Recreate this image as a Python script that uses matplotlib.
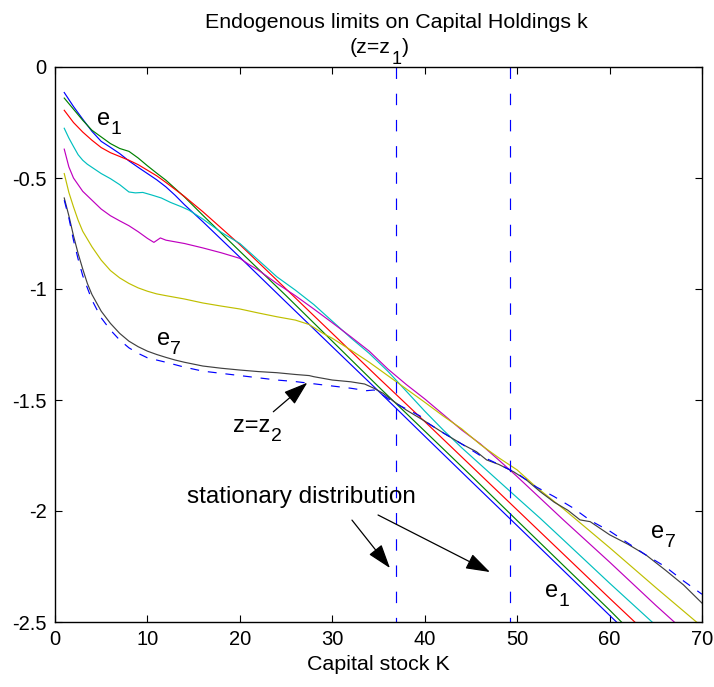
import matplotlib
matplotlib.use("Agg")
import matplotlib.pyplot as plt

plt.rcParams['font.family'] = ['Liberation Sans', 'DejaVu Sans']

# ---------------- data ----------------
k_e1 = [1, 2, 3, 4, 5, 6, 7, 8, 9, 10, 11, 12, 13, 14, 16, 20, 25, 30, 35, 40, 45, 50, 55, 60, 62]
v_e1 = [-0.115, -0.178, -0.235, -0.29, -0.335, -0.362, -0.39, -0.423, -0.452, -0.48, -0.508, -0.54,
        -0.578, -0.62, -0.697, -0.857, -1.059, -1.26, -1.46, -1.663, -1.865, -2.066, -2.268, -2.47, -2.55]

k_e2 = [1, 2, 3, 4, 5, 6, 7, 8, 9, 10, 11, 12, 14, 16, 20, 25, 30, 35, 40, 45, 50, 55, 60, 62]
v_e2 = [-0.14, -0.19, -0.24, -0.285, -0.315, -0.345, -0.367, -0.38, -0.41, -0.445, -0.478, -0.51,
        -0.585, -0.668, -0.83, -1.03, -1.235, -1.44, -1.64, -1.84, -2.043, -2.245, -2.446, -2.53]

k_e3 = [1, 2, 3, 4, 5, 6, 7, 8, 9, 10, 11, 12, 14, 16, 20, 25, 30, 35, 40, 45, 50, 55, 60, 64]
v_e3 = [-0.195, -0.25, -0.293, -0.33, -0.363, -0.386, -0.403, -0.42, -0.44, -0.465, -0.49, -0.52,
        -0.583, -0.652, -0.8, -1.0, -1.2, -1.4, -1.597, -1.796, -1.995, -2.194, -2.393, -2.55]

k_e4 = [1, 1.5, 2, 2.5, 3, 3.5, 4, 5, 6, 7, 8, 8.7, 9.5, 10.5, 11.5, 12.5, 13.7, 14.5, 16, 18, 20,
        22, 24, 26, 28, 30, 32, 34, 36, 38, 40, 42, 44, 46, 48, 50, 52.5, 55, 60, 64.6, 66]
v_e4 = [-0.276, -0.32, -0.358, -0.395, -0.42, -0.438, -0.452, -0.48, -0.503, -0.53, -0.563, -0.567,
        -0.565, -0.577, -0.59, -0.61, -0.63, -0.645, -0.685, -0.745, -0.795, -0.87, -0.945, -1.005,
        -1.07, -1.145, -1.22, -1.29, -1.37, -1.46, -1.55, -1.635, -1.715, -1.79, -1.865, -1.94,
        -2.033, -2.13, -2.325, -2.5, -2.555]

k_e5 = [1, 1.5, 2, 3, 4, 5, 6, 7, 8, 9, 10, 10.7, 11.4, 12, 14, 16, 18, 20, 21, 22, 24, 26, 28, 30,
        32, 34, 36, 38, 40, 42, 44, 46, 48, 50, 55, 60, 65, 67, 68]
v_e5 = [-0.37, -0.45, -0.5, -0.56, -0.6, -0.64, -0.67, -0.693, -0.715, -0.742, -0.772, -0.79, -0.77,
        -0.78, -0.795, -0.815, -0.837, -0.862, -0.89, -0.915, -0.975, -1.03, -1.09, -1.152, -1.215,
        -1.28, -1.36, -1.43, -1.495, -1.565, -1.635, -1.697, -1.77, -1.845, -2.04, -2.23, -2.425,
        -2.5, -2.54]

k_e6 = [1, 1.5, 2, 2.5, 3, 3.5, 4, 5, 6, 7, 8, 9, 10, 11, 12, 14, 16, 18, 20, 22, 24, 26, 27.5, 29,
        30, 32, 34, 36, 38, 40, 42, 44, 46, 48, 50, 52, 55, 57, 60, 65, 69.4, 70]
v_e6 = [-0.48, -0.565, -0.63, -0.69, -0.74, -0.775, -0.81, -0.87, -0.917, -0.95, -0.975, -0.995,
        -1.01, -1.022, -1.03, -1.045, -1.063, -1.077, -1.09, -1.108, -1.125, -1.14, -1.16, -1.2,
        -1.222, -1.275, -1.33, -1.39, -1.45, -1.51, -1.572, -1.63, -1.7, -1.76, -1.815, -1.89,
        -1.99, -2.06, -2.165, -2.345, -2.5, -2.52]

k_e7 = [1, 1.5, 2, 2.5, 3, 3.5, 4, 5, 6, 7, 8, 9, 10, 11, 12, 13, 14, 16, 18, 20, 22, 24, 26, 27.5,
        28, 30, 32, 33.5, 34.5, 35.5, 36.6, 38, 40, 42, 44, 45.6, 46.7, 48, 49.6, 51, 52.5, 54, 55.5,
        56.8, 57.9, 60, 62, 64, 66, 68, 70]
v_e7 = [-0.59, -0.67, -0.76, -0.84, -0.91, -0.975, -1.025, -1.1, -1.155, -1.2, -1.235, -1.26, -1.28,
        -1.295, -1.308, -1.32, -1.33, -1.347, -1.357, -1.365, -1.372, -1.377, -1.385, -1.39, -1.395,
        -1.41, -1.418, -1.428, -1.447, -1.47, -1.505, -1.545, -1.595, -1.648, -1.698, -1.733,
        -1.77, -1.79, -1.823, -1.86, -1.913, -1.96, -1.997, -2.04, -2.048, -2.107, -2.15, -2.2,
        -2.265, -2.333, -2.415]

k_z2 = [1, 1.5, 2, 2.5, 3, 4, 5, 6, 7, 8, 9, 10, 12, 14, 16, 18, 20, 22, 24, 26, 28, 30, 32, 33.7,
        34.5, 35.2, 36.6, 38, 39.5, 40, 42, 44, 46, 48, 50, 52, 54, 56, 58, 60, 62, 64, 66, 68, 70]
v_z2 = [-0.6, -0.68, -0.78, -0.865, -0.94, -1.05, -1.13, -1.185, -1.23, -1.265, -1.29, -1.31, -1.33,
        -1.352, -1.37, -1.38, -1.39, -1.4, -1.41, -1.417, -1.427, -1.437, -1.447, -1.458, -1.455,
        -1.47, -1.51, -1.54, -1.572, -1.595, -1.648, -1.698, -1.75, -1.79, -1.83, -1.89, -1.935,
        -1.985, -2.045, -2.09, -2.145, -2.2, -2.25, -2.315, -2.375]

stationary_k = [36.86, 49.25]

x_ticks = [0, 10, 20, 30, 40, 50, 60, 70]
y_ticks = [0, -0.5, -1, -1.5, -2, -2.5]
y_tick_labels = ['0', '-0.5', '-1', '-1.5', '-2', '-2.5']

# ---------------- figure ----------------
W, H = 714, 687
fig = plt.figure(figsize=(W / 100, H / 100), dpi=100)
ax = fig.add_axes([55 / W, 1 - 622 / H, 647 / W, 555 / H])
renderer = fig.canvas.get_renderer()

dash = (0, (9.7, 12.5))
lw = 0.85
colors = ['#0000ff', '#008000', '#ff0000', '#00bfbf', '#bf00bf', '#bfbf00', '#404040']
series = [(k_e1, v_e1), (k_e2, v_e2), (k_e3, v_e3), (k_e4, v_e4), (k_e5, v_e5), (k_e6, v_e6), (k_e7, v_e7)]
for (kk, vv), c in zip(series, colors):
    ax.plot(kk, vv, color=c, lw=lw)
ax.plot(k_z2, v_z2, color='#0000ff', lw=lw, linestyle=(0, (7.5, 7.5)))

for xv in stationary_k:
    ax.plot([xv, xv], [0, -2.5], color='#0000ff', lw=lw, linestyle=dash)

ax.set_xlim(0, 70)
ax.set_ylim(-2.5, 0)
ax.set_xticks(x_ticks)
ax.set_yticks(y_ticks)
ax.set_yticklabels(y_tick_labels)
ax.tick_params(direction='in', top=True, right=True, length=5, width=0.8,
               labelsize=14.5, pad=6)
for s in ax.spines.values():
    s.set_linewidth(1.0)
ax.set_xlabel('Capital stock K', fontsize=15.4, labelpad=4)


def sub_label(x, y, base, sub, fs, fs_sub, dy, tail='', coords='data'):
    """Base text followed by a lowered subscript (MATLAB-like)."""
    if coords == 'data':
        t = ax.text(x, y, base, fontsize=fs, va='baseline', ha='left')
        xy, xyc = (x, y), 'data'
    else:
        t = fig.text(x, y, base, fontsize=fs, va='baseline', ha='left')
        xy, xyc = (x, y), 'figure fraction'
    bb = t.get_window_extent(renderer=renderer)
    dx = bb.width * 72 / fig.dpi
    s = ax.annotate(sub, xy=xy, xycoords=xyc, xytext=(dx + 0.5, dy), textcoords='offset points',
                    fontsize=fs_sub, va='baseline', ha='left', annotation_clip=False)
    if tail:
        bb2 = s.get_window_extent(renderer=renderer)
        dx2 = dx + 0.5 + bb2.width * 72 / fig.dpi
        ax.annotate(tail, xy=xy, xycoords=xyc, xytext=(dx2, 0), textcoords='offset points',
                    fontsize=fs, va='baseline', ha='left', annotation_clip=False)


fig.text(396 / W, 1 - 28 / H, 'Endogenous limits on Capital Holdings k', ha='center', va='baseline',
         fontsize=15.4)
sub_label(350 / W, 1 - 53 / H, '(z=z', '1', 15.4, 13, -8, tail=')', coords='fig')

fs = 17
fsub = 14
sub_label(4.5, -0.261, 'e', '1', fs, fsub, -6.5)
sub_label(11.0, -1.252, 'e', '7', fs, fsub, -6.5)
sub_label(64.5, -2.123, 'e', '7', fs, fsub, -6.5)
sub_label(53.0, -2.386, 'e', '1', fs, fsub, -6.5)
sub_label(19.29, -1.643, 'z=z', '2', fs, fsub, -6.5)
ax.text(14.28, -1.964, 'stationary distribution', fontsize=17.5, va='baseline', ha='left')

ap = dict(arrowstyle='-|>,head_length=0.75,head_width=0.25', color='k', lw=0.9,
          mutation_scale=20, shrinkA=0, shrinkB=0)
ax.annotate('', xy=(27.3, -1.422), xytext=(23.62, -1.553), arrowprops=ap)
ax.annotate('', xy=(36.24, -2.257), xytext=(32.13, -2.041), arrowprops=ap)
ax.annotate('', xy=(47.06, -2.275), xytext=(34.95, -2.018), arrowprops=ap)

fig.savefig('out.png', dpi=100)
